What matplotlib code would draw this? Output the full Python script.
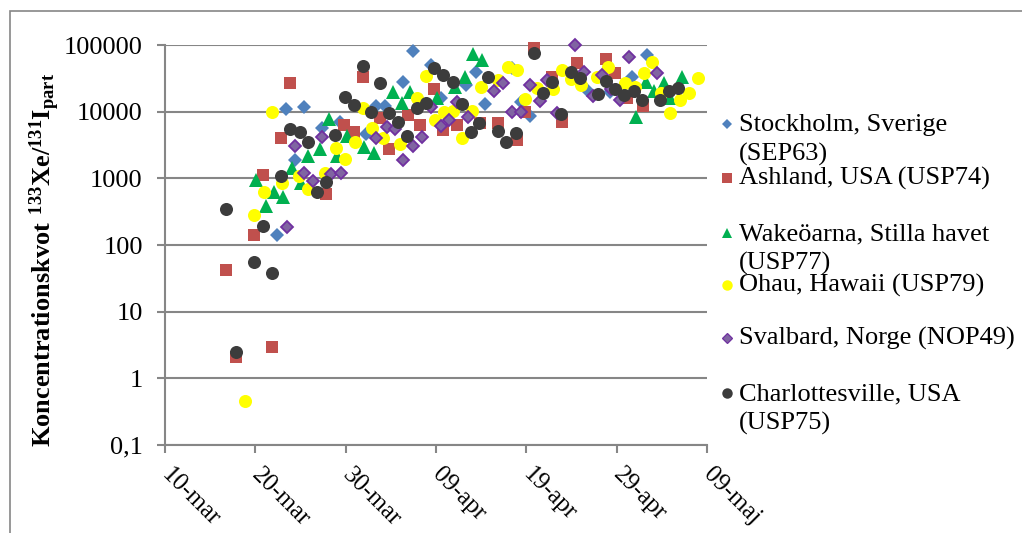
import numpy as np
import matplotlib.pyplot as plt
from matplotlib.patches import Rectangle
from matplotlib.lines import Line2D

plt.rcParams['font.family'] = ['Liberation Serif', 'DejaVu Serif']
plt.rcParams['mathtext.fontset'] = 'custom'
plt.rcParams['mathtext.rm'] = 'Liberation Serif'
plt.rcParams['mathtext.bf'] = 'Liberation Serif:bold'

# days after 10 March 2011, ratio 133Xe/131I(part)
stockholm_days = [12.4, 13.4, 14.4, 15.4, 17.4, 19.4, 22.3, 23.4, 24.4, 26.4, 27.4, 29.4,
                  30.5, 33.3, 34.4, 35.4, 38.4, 39.4, 40.4, 46.7, 49.3, 51.7, 53.4]
stockholm_vals = [140, 11000, 1900, 11800, 5600, 7100, 4600, 12000, 12000, 28000, 81000, 50000,
                  16000, 25000, 40000, 13000, 45000, 14000, 8600, 21000, 20000, 33500, 71000]

ashland_days = [6.8, 7.9, 9.9, 10.8, 11.9, 12.8, 13.8, 17.8, 19.8, 20.9, 21.9, 23.8, 24.8,
                26.9, 28.2, 29.8, 30.8, 32.3, 34.9, 36.9, 39.0, 39.9, 40.8, 42.8, 43.9,
                45.6, 48.8, 49.8, 51.1, 52.9]
ashland_vals = [42, 2.1, 140, 1120, 3.0, 4000, 27000, 590, 6300, 5000, 33000, 7900, 2800,
                8900, 6300, 22000, 5300, 6300, 6700, 6700, 3800, 10000, 89000, 33500, 6900,
                53000, 61000, 38000, 15800, 12300]

wake_days = [10.1, 11.2, 12.1, 13.1, 14.1, 15.0, 15.8, 17.2, 18.2, 19.0, 20.1, 22.0, 23.1,
             25.2, 26.2, 27.1, 30.1, 32.1, 33.2, 34.1, 35.1, 52.1, 53.3, 54.1, 55.2, 55.9, 57.2]
wake_vals = [930, 390, 630, 530, 1450, 850, 2200, 2800, 7700, 2200, 4300, 3000, 2400,
             20000, 13400, 20000, 16000, 23600, 33500, 73000, 60000, 8200, 28000, 20500,
             27000, 16000, 33500]

ohau_days = [8.9, 9.9, 11.0, 11.9, 12.9, 14.8, 15.8, 17.7, 18.9, 19.9, 21.0, 21.9, 22.9,
             24.1, 26.0, 27.9, 28.9, 29.9, 30.9, 31.9, 32.9, 34.0, 35.0, 36.9, 38.0, 39.0,
             39.9, 41.2, 42.9, 43.9, 44.9, 46.0, 47.8, 49.0, 50.9, 52.0, 53.0, 53.9, 54.9,
             55.9, 57.0, 58.0, 59.0]
ohau_vals = [0.45, 280, 630, 10000, 850, 1100, 690, 1200, 2900, 1950, 3500, 11200, 5600,
             4000, 3300, 16000, 34000, 7500, 10000, 10300, 4000, 10300, 23200, 30000, 46000,
             41500, 15400, 23000, 21700, 41500, 31000, 25000, 33500, 47000, 27000, 23600,
             38000, 56000, 19000, 9700, 15000, 19000, 31500]

svalbard_days = [13.5, 14.4, 15.4, 16.4, 17.4, 18.4, 19.5, 23.4, 24.6, 25.5, 26.4, 27.4,
                 28.4, 29.5, 30.5, 31.4, 32.3, 33.5, 36.4, 37.4, 38.4, 39.4, 40.4, 41.5,
                 42.3, 43.4, 45.4, 46.4, 47.4, 48.4, 49.4, 50.4, 51.4, 54.5]
svalbard_vals = [185, 3100, 1200, 900, 4100, 1150, 1200, 4000, 5900, 5500, 1900, 3100,
                 4100, 11700, 6100, 7500, 14100, 8200, 20500, 27000, 10000, 10000, 25000,
                 14700, 30000, 9700, 100000, 40000, 17200, 35500, 21700, 15000, 67000, 38500]

charl_days = [6.8, 7.9, 9.9, 10.8, 11.9, 12.8, 13.8, 14.9, 15.8, 16.8, 17.8, 18.8, 19.9,
              20.9, 21.9, 22.8, 23.8, 24.8, 25.8, 26.8, 27.9, 28.9, 29.8, 30.8, 31.9, 32.9,
              33.9, 34.8, 35.8, 36.9, 37.8, 38.9, 40.9, 41.9, 42.8, 43.8, 44.9, 45.9, 47.9,
              48.8, 49.8, 50.8, 51.9, 52.8, 54.8, 55.8, 56.8]
charl_vals = [350, 2.5, 56, 190, 38, 1100, 5500, 4900, 3500, 630, 870, 4500, 16500,
              12500, 49000, 10000, 27000, 9700, 6900, 4300, 11200, 13400, 45000, 35000,
              27500, 13000, 5000, 6700, 33000, 5200, 3500, 4800, 75000, 19000, 27500, 9300,
              40000, 32000, 18300, 29000, 21700, 17800, 20500, 15000, 15000, 20700, 23000]

x_ticks = [0, 10, 20, 30, 40, 50, 60]
x_labels = ['10-mar', '20-mar', '30-mar', '09-apr', '19-apr', '29-apr', '09-maj']
y_ticks = [0.1, 1, 10, 100, 1000, 10000, 100000]
y_labels = ['0,1', '1', '10', '100', '1000', '10000', '100000']

series = [
    ('Stockholm, Sverige\n(SEP63)', stockholm_days, stockholm_vals,
     dict(marker='D', ms=6.8, mfc='#4F81BD', mec='#4F81BD', mew=0)),
    ('Ashland, USA (USP74)', ashland_days, ashland_vals,
     dict(marker='s', ms=8.6, mfc='#C0504D', mec='#C0504D', mew=0)),
    ('Wakeöarna, Stilla havet\n(USP77)', wake_days, wake_vals,
     dict(marker='^', ms=9.4, mfc='#00B050', mec='#00B050', mew=0)),
    ('Ohau, Hawaii (USP79)', ohau_days, ohau_vals,
     dict(marker='o', ms=9.4, mfc='#FFFF00', mec='#FFFF00', mew=0)),
    ('Svalbard, Norge (NOP49)', svalbard_days, svalbard_vals,
     dict(marker='D', ms=6.0, mfc='#8064A2', mec='#7030A0', mew=1.3)),
    ('Charlottesville, USA\n(USP75)', charl_days, charl_vals,
     dict(marker='o', ms=9.4, mfc='#3C3C3C', mec='#3C3C3C', mew=0)),
]

W, H = 1022, 533
fig = plt.figure(figsize=(W / 100, H / 100), dpi=100)
ax = fig.add_axes([165 / W, (H - 445) / H, (707 - 165) / W, (445 - 45) / H])

grid_col = '#868686'
for label, d, v, style in series:
    ax.plot(d, v, ls='none', zorder=3, clip_on=False, **style)

ax.set_yscale('log')
ax.set_ylim(0.1, 100000)
ax.set_xlim(0, 60)
ax.minorticks_off()
ax.set_yticks(y_ticks)
ax.set_yticklabels(y_labels, fontsize=19)
ax.set_xticks(x_ticks)
ax.set_xticklabels(x_labels, fontsize=18, rotation=-45, rotation_mode='anchor',
                   ha='left', va='center')
ax.tick_params(axis='both', length=6, width=1.5, color=grid_col, direction='out')
ax.tick_params(axis='y', pad=10)
ax.tick_params(axis='x', pad=13)
ax.yaxis.grid(True, color=grid_col, lw=1.5)
ax.set_axisbelow(True)
for side in ['top', 'right']:
    ax.spines[side].set_visible(False)
for side in ['left', 'bottom']:
    ax.spines[side].set_color(grid_col)
    ax.spines[side].set_linewidth(1.5)

fig.text(45 / W, 1 - 260 / H,
         r'$\mathbf{Koncentrationskvot\ ^{133}Xe/^{131}I_{part}}$',
         rotation=90, ha='center', va='center', fontsize=19)

# legend drawn by hand so the marker sits on the first text line
legend_y = [124, 178, 233, 285, 338, 393]
for (label, d, v, style), ly in zip(series, legend_y):
    s = dict(style)
    s['ms'] = s['ms'] * 0.8
    s['mew'] = s['mew'] * 0.7
    fig.add_artist(Line2D([727 / W], [1 - ly / H], ls='none', transform=fig.transFigure, **s))
    for i, line in enumerate(label.split('\n')):
        fig.text(739 / W, 1 - (ly + 7 + 30 * i) / H, line, ha='left', va='baseline',
                 fontsize=19)

fig.add_artist(Rectangle((10 / W, -0.2), 1.2, 1.2 - 11 / H, transform=fig.transFigure,
                         fill=False, edgecolor=grid_col, lw=1.2))

fig.savefig('out.png', dpi=100)
